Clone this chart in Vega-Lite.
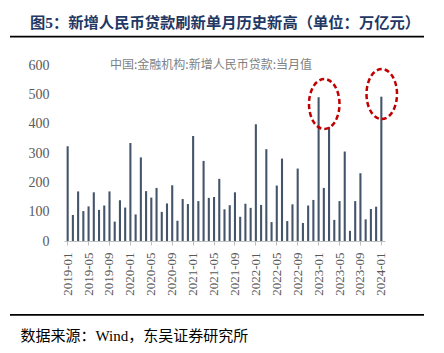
{
  "$schema": "https://vega.github.io/schema/vega-lite/v6.json",
  "autosize": {"type": "none"},
  "width": 414,
  "height": 176,
  "padding": {"left": 10, "top": 65, "right": 20, "bottom": 112},
  "background": "white",
  "title": {
    "text": "图5：新增人民币贷款刷新单月历史新高（单位：万亿元）",
    "anchor": "start",
    "frame": "group",
    "dx": 20,
    "dy": 22,
    "offset": 14,
    "baseline": "alphabetic",
    "font": "Liberation Serif, Noto Sans CJK SC",
    "fontSize": 15.3,
    "fontWeight": "bold",
    "color": "#1f3864"
  },
  "datasets": {
    "loans": [
      {"month": "2019-01", "v": 323}, {"month": "2019-02", "v": 88.6}, {"month": "2019-03", "v": 169}, {"month": "2019-04", "v": 102},
      {"month": "2019-05", "v": 118}, {"month": "2019-06", "v": 166}, {"month": "2019-07", "v": 106}, {"month": "2019-08", "v": 121},
      {"month": "2019-09", "v": 169}, {"month": "2019-10", "v": 66.1}, {"month": "2019-11", "v": 139}, {"month": "2019-12", "v": 114},
      {"month": "2020-01", "v": 334}, {"month": "2020-02", "v": 90.6}, {"month": "2020-03", "v": 285}, {"month": "2020-04", "v": 170},
      {"month": "2020-05", "v": 148}, {"month": "2020-06", "v": 181}, {"month": "2020-07", "v": 99.3}, {"month": "2020-08", "v": 128},
      {"month": "2020-09", "v": 190}, {"month": "2020-10", "v": 69}, {"month": "2020-11", "v": 143}, {"month": "2020-12", "v": 126},
      {"month": "2021-01", "v": 358}, {"month": "2021-02", "v": 136}, {"month": "2021-03", "v": 273}, {"month": "2021-04", "v": 147},
      {"month": "2021-05", "v": 150}, {"month": "2021-06", "v": 212}, {"month": "2021-07", "v": 108}, {"month": "2021-08", "v": 122},
      {"month": "2021-09", "v": 166}, {"month": "2021-10", "v": 82.6}, {"month": "2021-11", "v": 127}, {"month": "2021-12", "v": 113},
      {"month": "2022-01", "v": 398}, {"month": "2022-02", "v": 123}, {"month": "2022-03", "v": 313}, {"month": "2022-04", "v": 64.5},
      {"month": "2022-05", "v": 189}, {"month": "2022-06", "v": 281}, {"month": "2022-07", "v": 67.9}, {"month": "2022-08", "v": 125},
      {"month": "2022-09", "v": 247}, {"month": "2022-10", "v": 61.5}, {"month": "2022-11", "v": 121}, {"month": "2022-12", "v": 140},
      {"month": "2023-01", "v": 490}, {"month": "2023-02", "v": 181}, {"month": "2023-03", "v": 389}, {"month": "2023-04", "v": 71.9},
      {"month": "2023-05", "v": 136}, {"month": "2023-06", "v": 305}, {"month": "2023-07", "v": 34.6}, {"month": "2023-08", "v": 136},
      {"month": "2023-09", "v": 231}, {"month": "2023-10", "v": 73.8}, {"month": "2023-11", "v": 109}, {"month": "2023-12", "v": 117},
      {"month": "2024-01", "v": 492}
    ],
    "marks": [
      {"month": "2023-02", "v": 467},
      {"month": "2024-01", "v": 501}
    ],
    "lines": [
      {"pos": "top"}
    ]
  },
  "layer": [
    {
      "data": {"name": "loans"},
      "mark": {"type": "bar"},
      "encoding": {
        "x": {
          "field": "month", "type": "ordinal", "sort": null,
          "scale": {"range": [54, 375], "paddingInner": 0.6, "paddingOuter": 0.5},
          "axis": {
            "values": ["2019-01","2019-05","2019-09","2020-01","2020-05","2020-09","2021-01","2021-05","2021-09","2022-01","2022-05","2022-09","2023-01","2023-05","2023-09","2024-01"],
            "labelAngle": -90,
            "labelAlign": "right",
            "labelBaseline": "middle",
            "labelFont": "Liberation Serif",
            "labelFontSize": 13,
            "labelColor": "#595959",
            "labelPadding": 7,
            "labelOverlap": false,
            "tickSize": 4,
            "tickColor": "#bfbfbf",
            "domainColor": "#bfbfbf",
            "grid": false,
            "title": "数据来源：Wind，东吴证券研究所",
            "titleAnchor": "start",
            "titleAlign": "left",
            "titleBaseline": "middle",
            "titleX": 10,
            "titleY": 94,
            "titleFont": "Liberation Serif, Noto Sans CJK SC",
            "titleFontSize": 15,
            "titleFontWeight": "normal",
            "titleColor": "#000000"
          }
        },
        "y": {
          "field": "v", "type": "quantitative",
          "scale": {"domain": [0, 600], "nice": false},
          "axis": {
            "values": [0, 100, 200, 300, 400, 500, 600],
            "tickCount": 7,
            "offset": -54,
            "domain": false,
            "ticks": false,
            "grid": false,
            "labelOverlap": false,
            "labelFont": "Liberation Serif",
            "labelFontSize": 14,
            "labelColor": "#595959",
            "labelPadding": 15,
            "title": null
          }
        },
        "color": {
          "datum": "中国:金融机构:新增人民币贷款:当月值",
          "scale": {"range": ["#44546a"]},
          "legend": {
            "orient": "none",
            "legendX": 84,
            "legendY": -6,
            "title": null,
            "symbolSize": 0,
            "symbolOpacity": 0,
            "labelFont": "Noto Sans CJK SC",
            "labelFontSize": 12,
            "labelColor": "#7f7f7f",
            "labelLimit": 400,
            "padding": 0
          }
        }
      }
    },
    {
      "data": {"name": "marks"},
      "mark": {
        "type": "point",
        "shape": "M -0.61 0 A 0.61 1 0 1 0 0.61 0 A 0.61 1 0 1 0 -0.61 0 Z",
        "size": 2500,
        "filled": false,
        "stroke": "#c00000",
        "strokeWidth": 2.5,
        "strokeDash": [5, 3],
        "opacity": 1
      },
      "encoding": {
        "x": {"field": "month", "type": "ordinal", "bandPosition": 0.7},
        "y": {
          "field": "v", "type": "quantitative",
          "axis": {
            "values": [0, 100, 200, 300, 400, 500, 600],
            "tickCount": 7,
            "offset": -54,
            "domain": false,
            "ticks": false,
            "grid": false,
            "labelOverlap": false,
            "labelFont": "Liberation Serif",
            "labelFontSize": 14,
            "labelColor": "#595959",
            "labelPadding": 15,
            "title": null
          }
        }
      }
    },
    {
      "data": {"name": "lines"},
      "mark": {"type": "rule", "color": "#000000", "strokeWidth": 1.8},
      "encoding": {"y": {"datum": 696.5, "type": "quantitative"}}
    },
    {
      "data": {"name": "lines"},
      "mark": {"type": "rule", "color": "#000000", "strokeWidth": 1.8},
      "encoding": {"y": {"datum": -252, "type": "quantitative"}}
    }
  ],
  "config": {
    "view": {"stroke": null},
    "axisY": {"labelOverlap": false}
  }
}
